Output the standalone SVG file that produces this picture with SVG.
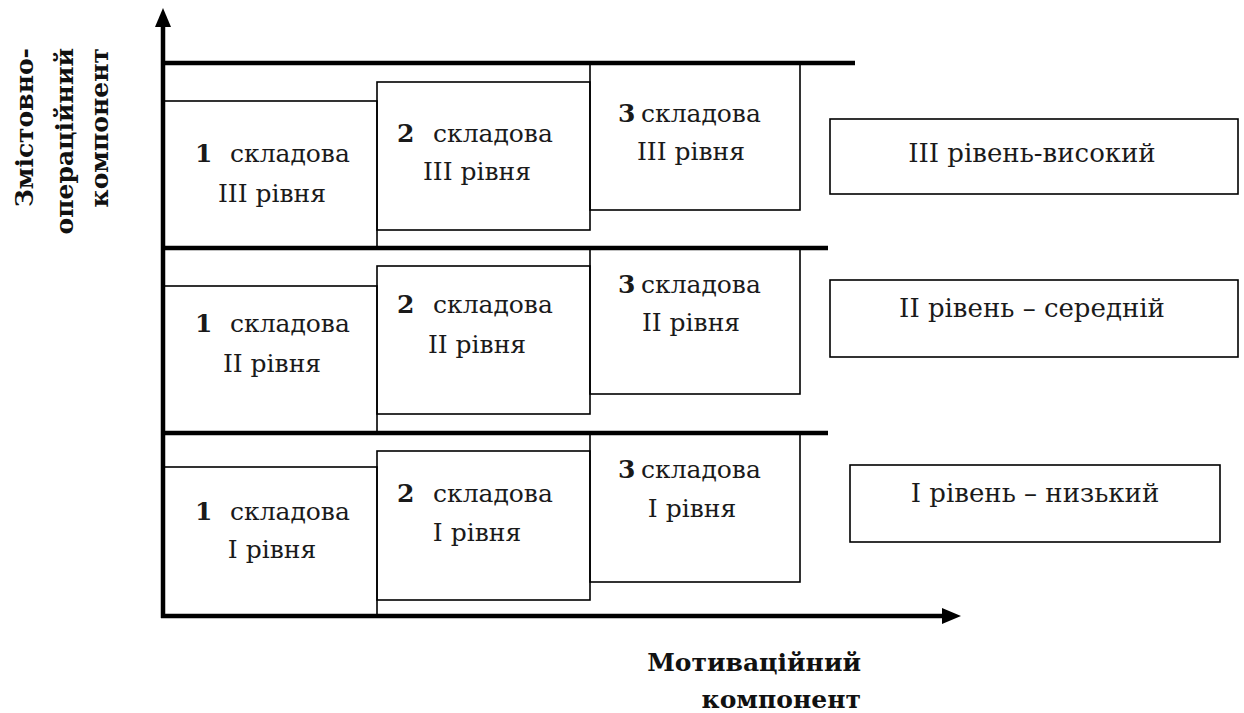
<svg xmlns="http://www.w3.org/2000/svg" width="1244" height="713" viewBox="0 0 1244 713">
<style>
.bg{fill:#ffffff}
.thick{stroke:#000;stroke-width:4.5;fill:none}
.box{stroke:#000;stroke-width:1.6;fill:none}
.t{font-family:"DejaVu Serif","Liberation Serif",serif;font-size:25px;fill:#1a1a1a}
.lv{font-size:26px}
.n{font-family:"DejaVu Serif","Liberation Serif",serif;font-weight:bold;font-size:25px;fill:#1a1a1a}
.lbl{font-family:"DejaVu Serif","Liberation Serif",serif;font-weight:bold;font-size:25px;fill:#111}
.mid{text-anchor:middle}
</style>
<rect class="bg" x="0" y="0" width="1244" height="713"/>
<g id="connectors">
  <line class="thick" x1="163" y1="618" x2="163" y2="24"/>
  <polygon points="163,8 155,27 171,27" fill="#000"/>
  <line class="thick" x1="161" y1="616" x2="945" y2="616"/>
  <polygon points="961,616 942,608 942,624" fill="#000"/>
  <line class="thick" x1="163" y1="63" x2="855" y2="63"/>
  <line class="thick" x1="163" y1="248" x2="828" y2="248"/>
  <line class="thick" x1="163" y1="433" x2="828" y2="433"/>
</g>
<g id="axis-y-label">
  <text class="lbl" text-anchor="end" transform="translate(33,48) rotate(-90)">Змістовно-</text>
  <text class="lbl" text-anchor="end" transform="translate(73,48) rotate(-90)">операційний</text>
  <text class="lbl" text-anchor="end" transform="translate(108,48) rotate(-90)">компонент</text>
</g>
<g id="axis-x-label">
  <text class="lbl" text-anchor="end" x="861" y="671">Мотиваційний</text>
  <text class="lbl" text-anchor="end" x="861" y="708">компонент</text>
</g>
<g id="r3c1">
  <rect class="box" x="163" y="101" width="214" height="147"/>
  <text class="t"><tspan class="n" x="195" y="162">1</tspan><tspan x="230" y="162">складова</tspan></text>
  <text class="t mid" x="272" y="202">III рівня</text>
</g>
<g id="r3c2">
  <rect class="box" x="377" y="82" width="213" height="148"/>
  <text class="t"><tspan class="n" x="397" y="142">2</tspan><tspan x="433" y="142">складова</tspan></text>
  <text class="t mid" x="477" y="180">III рівня</text>
</g>
<g id="r3c3">
  <rect class="box" x="590" y="63" width="210" height="147"/>
  <text class="t"><tspan class="n" x="618" y="122">3</tspan><tspan x="641" y="122">складова</tspan></text>
  <text class="t mid" x="691" y="160">III рівня</text>
</g>
<g id="r2c1">
  <rect class="box" x="163" y="286" width="214" height="147"/>
  <text class="t"><tspan class="n" x="195" y="332">1</tspan><tspan x="230" y="332">складова</tspan></text>
  <text class="t mid" x="272" y="372">II рівня</text>
</g>
<g id="r2c2">
  <rect class="box" x="377" y="266" width="213" height="148"/>
  <text class="t"><tspan class="n" x="397" y="313">2</tspan><tspan x="433" y="313">складова</tspan></text>
  <text class="t mid" x="477" y="353">II рівня</text>
</g>
<g id="r2c3">
  <rect class="box" x="590" y="248" width="210" height="146"/>
  <text class="t"><tspan class="n" x="618" y="293">3</tspan><tspan x="641" y="293">складова</tspan></text>
  <text class="t mid" x="691" y="331">II рівня</text>
</g>
<g id="r1c1">
  <rect class="box" x="163" y="467" width="214" height="149"/>
  <text class="t"><tspan class="n" x="195" y="520">1</tspan><tspan x="230" y="520">складова</tspan></text>
  <text class="t mid" x="272" y="558">I рівня</text>
</g>
<g id="r1c2">
  <rect class="box" x="377" y="451" width="213" height="149"/>
  <text class="t"><tspan class="n" x="397" y="502">2</tspan><tspan x="433" y="502">складова</tspan></text>
  <text class="t mid" x="477" y="541">I рівня</text>
</g>
<g id="r1c3">
  <rect class="box" x="590" y="433" width="210" height="149"/>
  <text class="t"><tspan class="n" x="618" y="478">3</tspan><tspan x="641" y="478">складова</tspan></text>
  <text class="t mid" x="692" y="517">I рівня</text>
</g>
<g id="level3">
  <rect class="box" x="830" y="119" width="408" height="75"/>
  <text class="t lv mid" x="1032" y="162">III рівень-високий</text>
</g>
<g id="level2">
  <rect class="box" x="830" y="280" width="408" height="77"/>
  <text class="t lv mid" x="1032" y="317">II рівень – середній</text>
</g>
<g id="level1">
  <rect class="box" x="850" y="465" width="370" height="77"/>
  <text class="t lv mid" x="1035" y="502">I рівень – низький</text>
</g>
</svg>
